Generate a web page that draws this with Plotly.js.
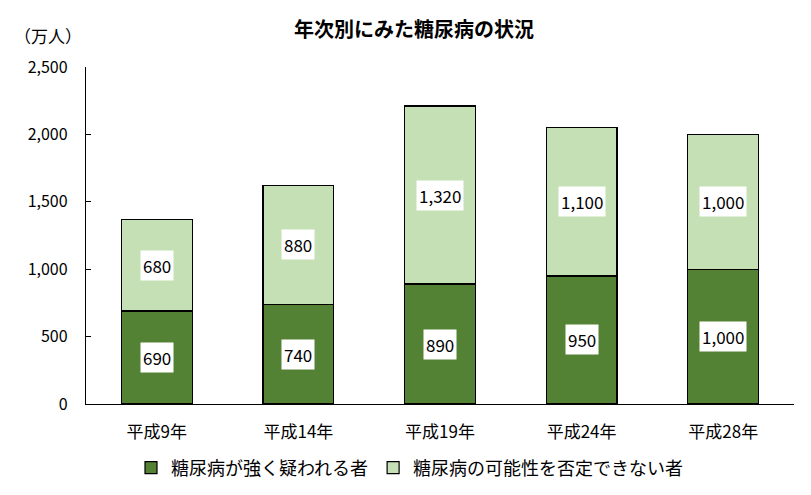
<!DOCTYPE html>
<html><head><meta charset="utf-8">
<script src="https://cdn.plot.ly/plotly-3.0.1.min.js"></script>
<style>body{margin:0;background:#fff}#chart{width:811px;height:495px}</style>
</head><body><div id="chart"></div>
<script>
const categories = ["平成9年","平成14年","平成19年","平成24年","平成28年"];
const strong = [690, 740, 890, 950, 1000];
const possible = [680, 880, 1320, 1100, 1000];
const seriesNames = ["糖尿病が強く疑われる者","糖尿病の可能性を否定できない者"];
const yTicks = [0, 500, 1000, 1500, 2000, 2500];

const FONT = '"Noto Sans CJK JP", "Noto Sans", sans-serif';
const darkC = '#548235', lightC = '#C5E0B4';

const traces = [
  {type:'bar', name:seriesNames[0], x:categories, y:strong,
   marker:{color:darkC, line:{color:'#000', width:1.2}}, width:0.5, hoverinfo:'none'},
  {type:'bar', name:seriesNames[1], x:categories, y:possible,
   marker:{color:lightC, line:{color:'#000', width:1.2}}, width:0.5, hoverinfo:'none'}
];

const labelFont = {family:FONT, size:17, color:'#000'};
const annotations = [];
categories.forEach((c,i)=>{
  annotations.push({x:c, y:strong[i]/2, xref:'x', yref:'y', text:strong[i].toLocaleString('en-US'),
    showarrow:false, bgcolor:'#fff', borderpad:2, font:labelFont});
  annotations.push({x:c, y:strong[i]+possible[i]/2, xref:'x', yref:'y', text:possible[i].toLocaleString('en-US'),
    showarrow:false, bgcolor:'#fff', borderpad:2, font:labelFont});
});
annotations.push({xref:'paper', yref:'paper', x:(48-86)/(811-86-17), y:(404-35)/(404-67),
  xanchor:'center', yanchor:'middle',
  text:'（万人）', showarrow:false, font:{family:FONT, size:17, color:'#000'}});

const layout = {
  width:811, height:495,
  margin:{l:86, r:17, t:67, b:91},
  paper_bgcolor:'#fff', plot_bgcolor:'#fff',
  barmode:'stack', bargap:0.5,
  font:{family:FONT, size:16, color:'#000'},
  title:{text:'<b>年次別にみた糖尿病の状況</b>', x:414/811, xanchor:'center', y:1-30/495, yanchor:'middle',
    font:{family:FONT, size:20, color:'#000'}},
  xaxis:{showline:true, linecolor:'#000', linewidth:1.2, ticks:'', tickfont:{family:FONT, size:17},
    showgrid:false, zeroline:false, ticklabelstandoff:12},
  yaxis:{range:[0,2500], tickvals:yTicks, ticktext:yTicks.map(v=>v.toLocaleString('en-US')),
    showline:true, linecolor:'#000', linewidth:1.2, ticks:'inside', ticklen:5, tickcolor:'#000',
    showgrid:false, zeroline:false, tickfont:{family:FONT, size:16}, ticklabelstandoff:14},
  legend:{orientation:'h', xref:'container', yref:'container', x:410/811, xanchor:'center',
    y:(495-468)/495, yanchor:'middle', font:{family:FONT, size:18}, traceorder:'normal',
    itemwidth:30},
  showlegend:true,
  annotations:annotations
};

Plotly.newPlot('chart', traces, layout, {displayModeBar:false, staticPlot:true});
</script>
</body></html>
